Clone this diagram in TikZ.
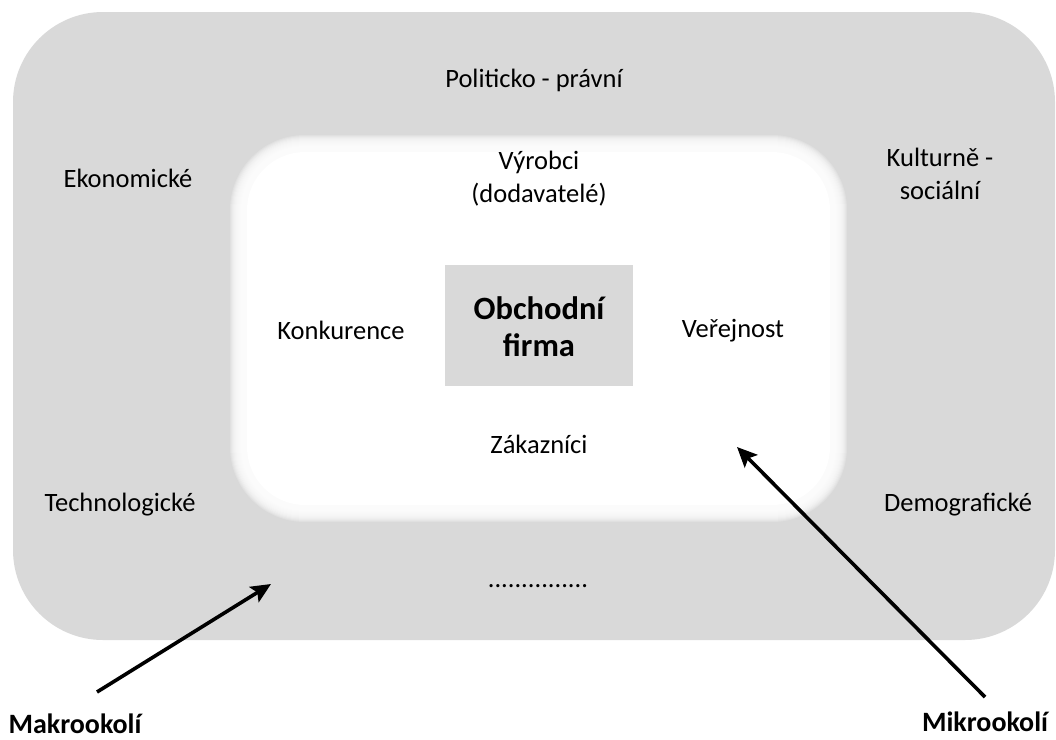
\documentclass[tikz,border=0pt]{standalone}
\usepackage{fontspec}
\setmainfont{Carlito}
\usetikzlibrary{arrows.meta}
\definecolor{boxgray}{HTML}{D9D9D9}
\tikzset{
  lbl/.style={font=\fontsize{26.5}{33}\selectfont, align=center, inner sep=0pt},
  blbl/.style={font=\fontsize{28}{34}\selectfont\bfseries, align=center, inner sep=0pt},
  arr/.style={line width=3.6pt, -{Stealth[length=20pt,width=18pt,inset=4pt]}}
}
\begin{document}
\begin{tikzpicture}[x=1pt,y=-1pt]
\useasboundingbox (0,0) rectangle (1056,739);
% outer macro environment
\fill[boxgray, rounded corners=90pt] (13,12) rectangle (1055,640);
% inner micro environment (soft edges)
\foreach \e in {-10,-9,...,10}{
  \pgfmathsetmacro{\rr}{65+\e}
  \fill[white, opacity=0.2, rounded corners=\rr pt] (240-\e,145-\e) rectangle (837+\e,512+\e);
}
\fill[white, rounded corners=58pt] (247,152) rectangle (830,505);
% firm box
\node[fill=boxgray, minimum width=188pt, minimum height=121pt, inner sep=0pt] (firm) at (539,325.5) {};
\node[font=\fontsize{32.5}{37}\selectfont\bfseries, align=center] (firmtxt) at (539,327) {Obchodní\\firma};
% macro labels
\node[lbl] (pol) at (534,80) {Politicko - právní};
\node[lbl] (eko) at (128,178) {Ekonomické};
\node[lbl] (kul) at (940,174) {Kulturně -\\sociální};
\node[lbl] (tech) at (120,505) {Technologické};
\node[lbl] (demo) at (958,505) {Demografické};
\node[lbl] (dots) at (538,586) {...............};
% micro labels
\node[lbl] (vyr) at (539,179) {Výrobci\\(dodavatelé)};
\node[lbl] (kon) at (341,330) {Konkurence};
\node[lbl] (ver) at (733,331) {Veřejnost};
\node[lbl] (zak) at (539,444) {Zákazníci};
% bottom labels
\node[blbl] (makro) at (75,724) {Makrookolí};
\node[blbl] (mikro) at (985,722) {Mikrookolí};
\coordinate (makroS) at (97,692);
\coordinate (makroE) at (271,584);
\coordinate (mikroS) at (985,697);
\coordinate (mikroE) at (737,447);
\draw[arr] (makroS) -- (makroE);
\draw[arr] (mikroS) -- (mikroE);
\end{tikzpicture}
\end{document}
